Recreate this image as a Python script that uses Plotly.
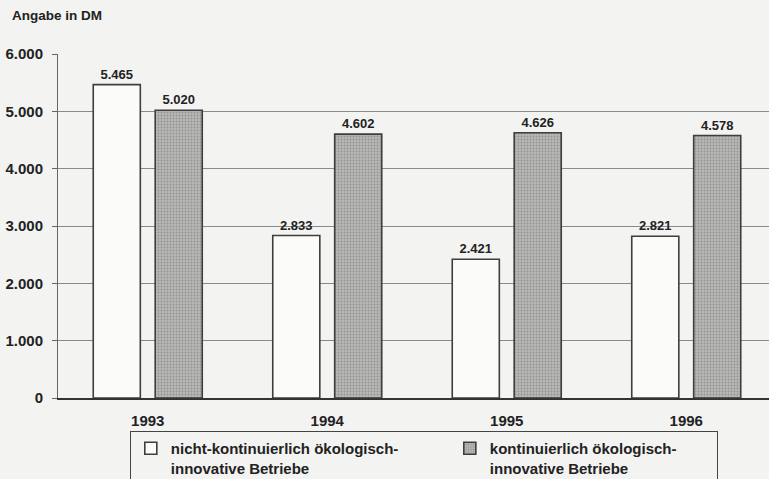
import plotly.graph_objects as go

years = ["1993", "1994", "1995", "1996"]
nicht_kont = [5465, 2833, 2421, 2821]
kont = [5020, 4602, 4626, 4578]
y_ticks = [0, 1000, 2000, 3000, 4000, 5000, 6000]

BG = "#f3f3f2"
FONT = "Liberation Sans, Arial, sans-serif"

fig = go.Figure()
fig.add_trace(go.Bar(
    x=years, y=nicht_kont,
    name="nicht-kontinuierlich ökologisch-<br>innovative Betriebe",
    marker=dict(color="#fbfbfa", line=dict(color="#3e3e3e", width=1.6)),
    text=nicht_kont, texttemplate="%{y:,.0f}", textposition="outside",
    textfont=dict(family=FONT, size=13, color="#222", weight="bold"),
    cliponaxis=False, legendwidth=274,
))
fig.add_trace(go.Bar(
    x=years, y=kont,
    name="kontinuierlich ökologisch-<br>innovative Betriebe",
    marker=dict(color="#b2b2b0", line=dict(color="#3e3e3e", width=1.6),
                pattern=dict(shape=".", fgcolor="#939391", bgcolor="#b8b8b6",
                             size=3, solidity=0.3, fillmode="replace")),
    text=kont, texttemplate="%{y:,.0f}", textposition="outside",
    textfont=dict(family=FONT, size=13, color="#222", weight="bold"),
    cliponaxis=False, legendwidth=222,
))

fig.update_layout(
    width=769, height=479,
    margin=dict(l=58, r=0, t=54, b=81, autoexpand=False),
    paper_bgcolor=BG, plot_bgcolor=BG,
    separators=",.",
    barmode="group", bargap=0.31, bargroupgap=0.24,
    font=dict(family=FONT, color="#222"),
    showlegend=True,
    legend=dict(
        orientation="h", x=0.101, xanchor="left", y=-0.096, yanchor="top",
        bgcolor=BG, bordercolor="#444", borderwidth=1,
        font=dict(family=FONT, size=15, color="#222", weight="bold"),
        valign="top", itemwidth=30, tracegroupgap=0,
    ),
    xaxis=dict(
        type="category", range=[-0.5, 3.461],
        showline=True, linecolor="#333", linewidth=1.5,
        ticks="", showgrid=False,
        tickfont=dict(family=FONT, size=15, color="#222", weight="bold"),
        ticklabelstandoff=8,
        minor=dict(ticks="outside", ticklen=5, tickcolor="#555", tickwidth=1, showgrid=False),
    ),
    yaxis=dict(
        range=[0, 6000], tickvals=y_ticks, tickformat=",.0f",
        showline=True, linecolor="#666", linewidth=1,
        ticks="outside", ticklen=5, tickcolor="#666",
        showgrid=True, gridcolor="#8a8a8a", gridwidth=1,
        zeroline=False,
        tickfont=dict(family=FONT, size=15, color="#222", weight="bold"),
        ticklabelstandoff=6,
    ),
    annotations=[dict(
        text="Angabe in DM", xref="paper", yref="paper",
        x=-0.0675, y=1.113, xanchor="left", yanchor="middle",
        showarrow=False,
        font=dict(family=FONT, size=13.5, color="#222", weight="bold"),
    )],
)

fig.write_html(
    "out.html",
    config={"displayModeBar": False},
    post_script="document.body.style.margin='0';document.body.style.padding='0';document.body.style.overflow='hidden';",
)
